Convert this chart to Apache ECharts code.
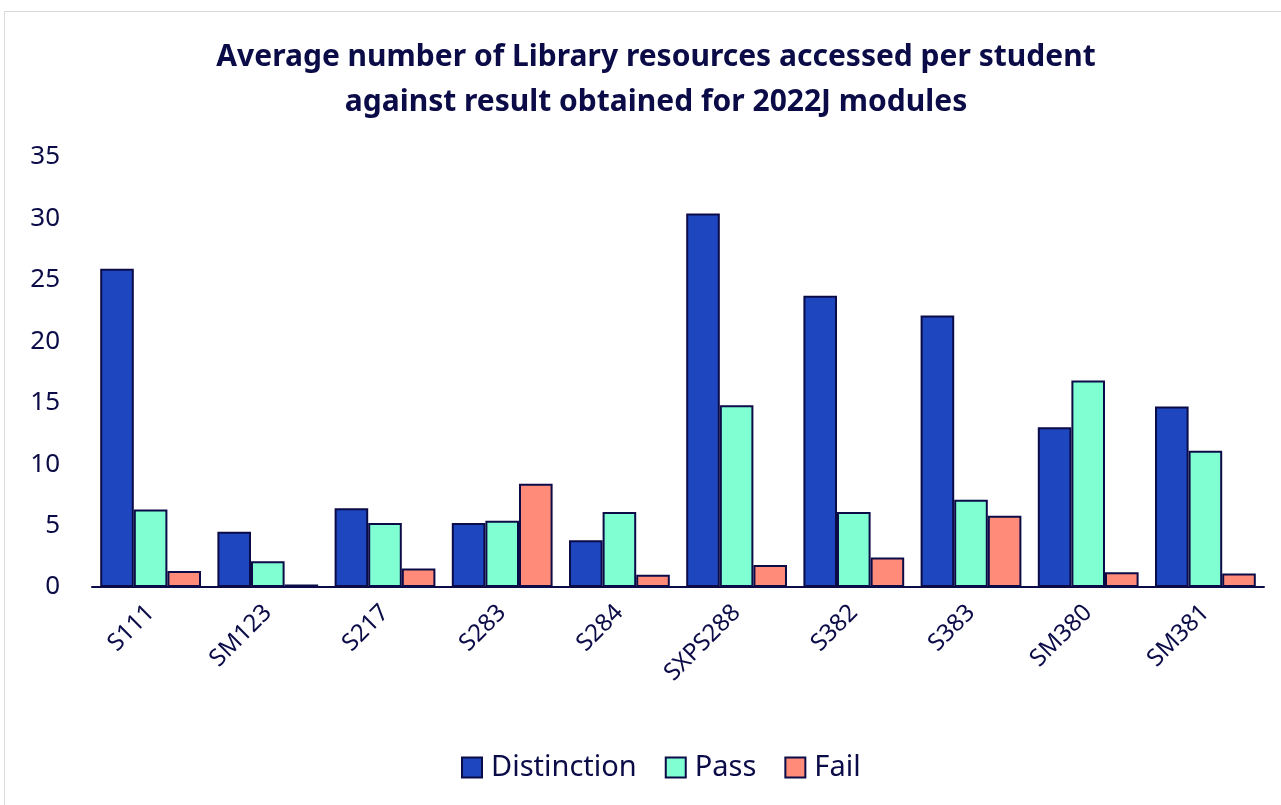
<!doctype html>
<html>
<head>
<meta charset="utf-8">
<title>Library resources per student</title>
<script src="https://cdn.jsdelivr.net/npm/echarts@6/dist/echarts.min.js"></script>
<style>
  html, body { margin: 0; padding: 0; background: #fff; }
  .frame {
    position: absolute;
    left: 4px; top: 11px;
    width: 1290px; height: 810px;
    border: 1px solid #d9d9d9;
    box-sizing: border-box;
  }
  #main { position: absolute; left: 0; top: 0; width: 1281px; height: 805px; }
</style>
</head>
<body>
<div class="frame"></div>
<div id="main"></div>
<script>
// modules (x axis)
var modules = ['S111', 'SM123', 'S217', 'S283', 'S284', 'SXPS288', 'S382', 'S383', 'SM380', 'SM381'];
// average resources accessed per student
var distinction = [25.9, 4.5, 6.4, 5.2, 3.8, 30.4, 23.7, 22.1, 13.0, 14.7];
var pass        = [6.3, 2.1, 5.2, 5.4, 6.1, 14.8, 6.1, 7.1, 16.8, 11.1];
var fail        = [1.3, 0.2, 1.5, 8.4, 1.0, 1.8, 2.4, 5.8, 1.2, 1.1];

var ink = '#0b0b48';
var font = 'Noto Sans';

var chart = echarts.init(document.getElementById('main'));

function bar(name, data, color) {
  return {
    name: name,
    type: 'bar',
    data: data,
    barGap: '0%',
    barCategoryGap: '14%',
    itemStyle: { color: color, borderColor: ink, borderWidth: 2 }
  };
}

var option = {
  animation: false,
  title: {
    text: 'Average number of Library resources accessed per student\nagainst result obtained for 2022J modules',
    left: 651,
    textAlign: 'center',
    top: 30,
    textStyle: { fontFamily: font, fontSize: 30, fontWeight: 'bold', color: ink, lineHeight: 45 }
  },
  legend: {
    bottom: 18,
    left: 456,
    icon: 'rect',
    itemWidth: 20,
    itemHeight: 20,
    itemGap: 28,
    textStyle: { fontFamily: font, fontSize: 29, color: ink, padding: [0, 0, 0, 4] },
    data: ['Distinction', 'Pass', 'Fail']
  },
  grid: { left: 92, right: 17, top: 157, bottom: 218, containLabel: false },
  xAxis: {
    type: 'category',
    data: modules,
    axisLine: { lineStyle: { color: ink, width: 2 } },
    axisTick: { show: false },
    axisLabel: { rotate: 45, fontFamily: font, fontSize: 24, color: ink, margin: 22 }
  },
  yAxis: {
    type: 'value',
    min: 0,
    max: 35,
    interval: 5,
    splitLine: { show: false },
    axisLine: { show: false },
    axisTick: { show: false },
    axisLabel: { fontFamily: font, fontSize: 26, color: ink, margin: 32 }
  },
  series: [
    bar('Distinction', distinction, '#1e46be'),
    bar('Pass', pass, '#80ffd2'),
    bar('Fail', fail, '#ff8b78')
  ]
};

chart.setOption(option);
</script>
</body>
</html>
